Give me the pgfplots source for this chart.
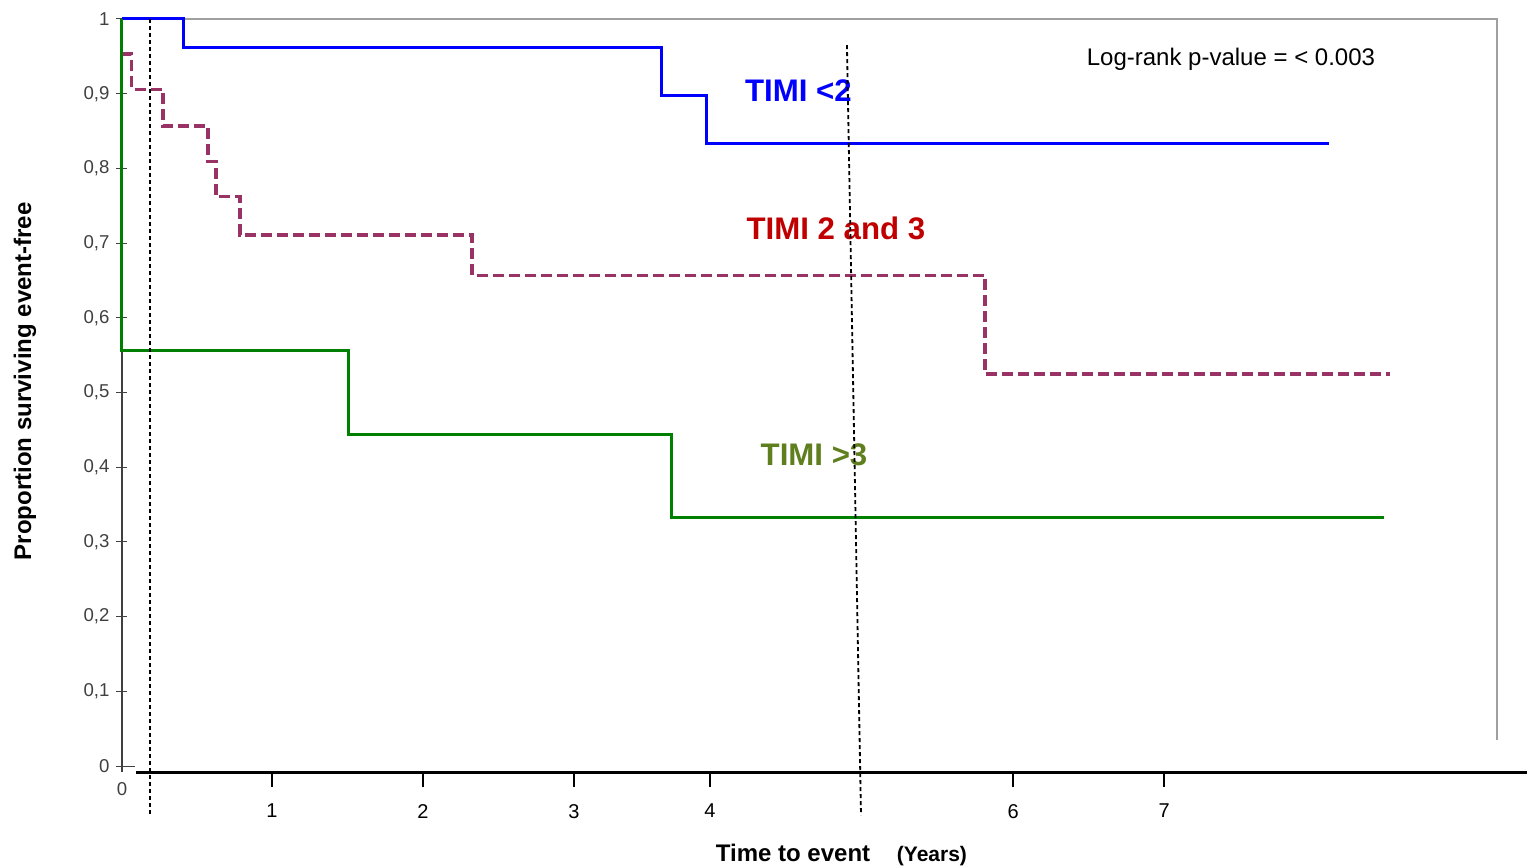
\documentclass[border=0pt]{standalone}
\usepackage{fontspec}
\setmainfont{Liberation Sans}
\usepackage{pgfplots}
\pgfplotsset{compat=1.18}
\definecolor{timiblue}{HTML}{0000FF}
\definecolor{timiplum}{HTML}{993366}
\definecolor{timigreen}{HTML}{008000}
\definecolor{lblred}{HTML}{C00000}
\definecolor{lblolive}{HTML}{5F7F1F}
\definecolor{framegray}{HTML}{A0A0A0}
\definecolor{axisgray}{HTML}{404040}

% x in "chart years": 151 px per unit, 0.5pt per px
\pgfplotsset{kmbase/.style={
  scale only axis, width=687.5pt, height=376.5pt,
  xmin=0, xmax=9.106, ymin=-0.008, ymax=1,
  at={(0,0)}, anchor=south west,
  axis line style={draw=none}, clip=false,
}}

\begin{document}
\begin{tikzpicture}
% x ticks only
\begin{axis}[kmbase, name=xax, hide y axis,
  xtick={0.9934,1.9934,2.993,3.894,5.901,6.901},
  xticklabels={1,2,3,4,6,7},
  xtick pos=left, tick align=outside, major tick length=7.5pt,
  tick style={black, line width=1pt},
  xticklabel style={font=\fontsize{10}{12}\selectfont, black, yshift=-5pt},
]
\addplot[draw=none, forget plot] coordinates {(0,0) (9,1)};
\end{axis}

% y axis and the curves
\begin{axis}[kmbase, name=ax, hide x axis,
  ytick={0,0.1,0.2,0.3,0.4,0.5,0.6,0.7,0.8,0.9,1},
  yticklabels={0,{0,1},{0,2},{0,3},{0,4},{0,5},{0,6},{0,7},{0,8},{0,9},1},
  ytick pos=left, tick align=center, major tick length=5.5pt,
  tick style={axisgray, line width=0.5pt},
  yticklabel style={font=\fontsize{9.3}{11}\selectfont, text=axisgray},
]
% frame
\addplot[framegray, line width=0.7pt, forget plot] coordinates {(0,1) (9.106,1) (9.106,0.0348)};
\addplot[axisgray, line width=0.7pt, forget plot] coordinates {(0,1) (0,-0.008)};
\addplot[axisgray, line width=0.5pt, forget plot] coordinates {(0,0) (0.086,0)};
\addplot[black, line width=1.5pt, forget plot] coordinates {(0.0927,-0.008) (9.305,-0.008)};

% TIMI <2
\addplot[const plot, timiblue, line width=1.5pt] coordinates {
  (0,1) (0.404,0.9625) (3.576,0.898) (3.874,0.834) (7.99,0.834)};
% TIMI 2 and 3
\addplot[const plot, timiplum, line width=1.7pt, dash pattern=on 5.5pt off 2.5pt] coordinates {
  (0,0.953) (0.064,0.906) (0.272,0.857) (0.570,0.809) (0.623,0.762)
  (0.781,0.711) (2.318,0.657) (5.715,0.525) (8.397,0.525)};
% TIMI >3
\addplot[const plot, timigreen, line width=1.5pt] coordinates {
  (0,1) (0,0.5556) (1.503,0.444) (3.636,0.333) (8.358,0.333)};

\node[font=\fontsize{15.6}{18}\selectfont\bfseries, text=timiblue] at (axis cs:4.480,0.9036) {TIMI <2};
\node[font=\fontsize{15.6}{18}\selectfont\bfseries, text=lblred] at (axis cs:4.728,0.720) {TIMI 2 and 3};
\node[font=\fontsize{15.6}{18}\selectfont\bfseries, text=lblolive] at (axis cs:4.583,0.416) {TIMI >3};
\node[font=\fontsize{12}{14}\selectfont] at (axis cs:7.344,0.946) {Log-rank p-value = < 0.003};

\node[font=\fontsize{12}{14}\selectfont\bfseries] at (axis cs:4.444,-0.1165) {Time to event};
\node[font=\fontsize{10.5}{12}\selectfont\bfseries] at (axis cs:5.364,-0.1205) {(Years)};
\node[font=\fontsize{12}{14}\selectfont\bfseries, rotate=90] at (axis cs:-0.642,0.515) {Proportion surviving event-free};
\node[font=\fontsize{9.3}{11}\selectfont, text=axisgray] at (axis cs:0,-0.0308) {0};

% dashed reference lines
\addplot[black, line width=0.9pt, dash pattern=on 2pt off 1.5pt, forget plot] coordinates {(0.185,1) (0.185,-0.0656)};
\addplot[black, line width=0.9pt, dash pattern=on 2pt off 1.5pt, forget plot] coordinates {(4.801,0.965) (4.894,-0.0656)};
\end{axis}

\pgfresetboundingbox
\path[use as bounding box] ([xshift=-61pt,yshift=-47.5pt]ax.south west) rectangle ([xshift=17pt,yshift=9.5pt]ax.north east);
\end{tikzpicture}
\end{document}
